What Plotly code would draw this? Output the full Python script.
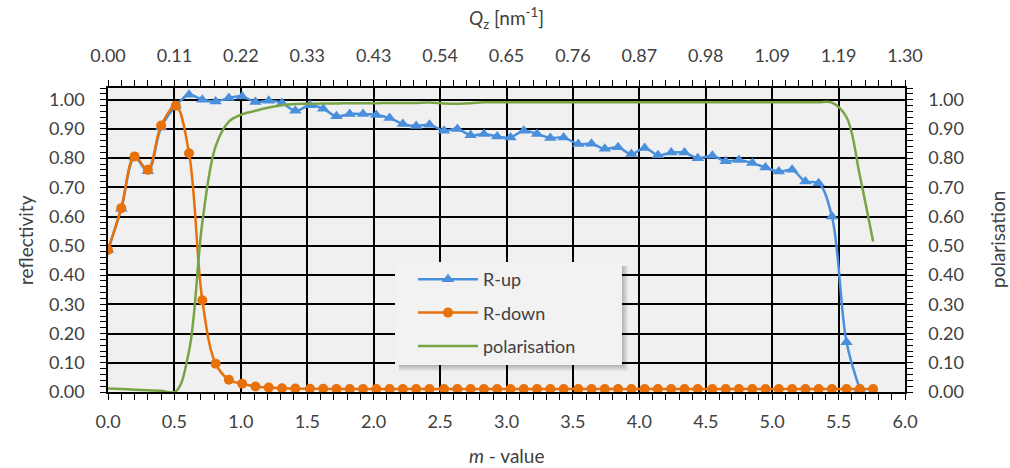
import plotly.graph_objects as go

# m-value of each measured point
M_VALUE = [
    0.00, 0.10, 0.20, 0.30, 0.40, 0.51, 0.61, 0.71, 0.81, 0.91,
    1.01, 1.11, 1.21, 1.31, 1.41, 1.52, 1.62, 1.72, 1.82, 1.92,
    2.02, 2.12, 2.22, 2.32, 2.42, 2.53, 2.63, 2.73, 2.83, 2.93,
    3.03, 3.13, 3.23, 3.33, 3.43, 3.54, 3.64, 3.74, 3.84, 3.94,
    4.04, 4.14, 4.24, 4.34, 4.44, 4.55, 4.65, 4.75, 4.85, 4.95,
    5.05, 5.15, 5.25, 5.35, 5.45, 5.56, 5.66, 5.76,
]

R_UP = [
    0.486, 0.627, 0.802, 0.755, 0.905, 0.979, 1.017, 1.000, 0.994, 1.006,
    1.011, 0.992, 0.996, 0.989, 0.962, 0.981, 0.969, 0.943, 0.951, 0.951,
    0.948, 0.937, 0.917, 0.910, 0.914, 0.894, 0.900, 0.878, 0.883, 0.874,
    0.871, 0.894, 0.883, 0.869, 0.871, 0.848, 0.849, 0.832, 0.837, 0.814,
    0.835, 0.810, 0.819, 0.819, 0.800, 0.808, 0.789, 0.794, 0.783, 0.768,
    0.754, 0.760, 0.720, 0.714, 0.600, 0.170, 0.010,
]

R_DOWN = [
    0.486, 0.629, 0.806, 0.760, 0.912, 0.979, 0.817, 0.314, 0.097, 0.042,
    0.028, 0.019, 0.015, 0.013, 0.012, 0.011, 0.011, 0.010, 0.010, 0.010,
    0.010, 0.010, 0.010, 0.010, 0.010, 0.010, 0.010, 0.010, 0.010, 0.010,
    0.010, 0.010, 0.010, 0.010, 0.010, 0.010, 0.010, 0.010, 0.010, 0.010,
    0.010, 0.010, 0.010, 0.010, 0.010, 0.010, 0.010, 0.010, 0.010, 0.010,
    0.010, 0.010, 0.010, 0.010, 0.010, 0.010, 0.010, 0.010,
]

POLARISATION = [
    0.012, 0.010, 0.008, 0.006, 0.004, 0.002, 0.140, 0.580, 0.840, 0.925,
    0.950, 0.962, 0.973, 0.981, 0.985, 0.986, 0.987, 0.987, 0.988, 0.988,
    0.988, 0.989, 0.989, 0.989, 0.990, 0.987, 0.986, 0.988, 0.991, 0.991,
    0.991, 0.991, 0.991, 0.991, 0.991, 0.991, 0.991, 0.991, 0.991, 0.991,
    0.991, 0.991, 0.991, 0.991, 0.991, 0.991, 0.991, 0.991, 0.991, 0.991,
    0.991, 0.991, 0.991, 0.991, 0.990, 0.940, 0.740, 0.515,
]

M_TICKS = [0.0, 0.5, 1.0, 1.5, 2.0, 2.5, 3.0, 3.5, 4.0, 4.5, 5.0, 5.5, 6.0]
M_LABELS = ["0.0", "0.5", "1.0", "1.5", "2.0", "2.5", "3.0",
            "3.5", "4.0", "4.5", "5.0", "5.5", "6.0"]
QZ_LABELS = ["0.00", "0.11", "0.22", "0.33", "0.43", "0.54", "0.65",
             "0.76", "0.87", "0.98", "1.09", "1.19", "1.30"]

BLUE = "#4A8FDC"
ORANGE = "#E8710C"
GREEN = "#78A446"
TEXT = "#404040"
FONT = "Lato, 'Open Sans', sans-serif"

W, H = 1010, 468
ML, MR, MT, MB = 108, 105, 88, 76
PW, PH = W - ML - MR, H - MT - MB


def px_x(px):
    return (px - ML) / PW


def px_y(py):
    return (H - MB - py) / PH


fig = go.Figure()

fig.add_trace(go.Scatter(
    x=M_VALUE[:len(R_UP)], y=R_UP, name="R-up", mode="lines+markers",
    legendgroup="up",
    line=dict(color=BLUE, width=2.5, shape="spline"),
    marker=dict(symbol="triangle-up", size=11, color=BLUE),
    xaxis="x", yaxis="y",
))
fig.add_trace(go.Scatter(
    x=M_VALUE, y=R_DOWN, name="R-down", mode="lines+markers",
    legendgroup="down",
    line=dict(color=ORANGE, width=2.5, shape="spline"),
    marker=dict(symbol="circle", size=10, color=ORANGE),
    xaxis="x", yaxis="y",
))
fig.add_trace(go.Scatter(
    x=M_VALUE, y=POLARISATION, name="polarisation", mode="lines",
    legendgroup="pol",
    line=dict(color=GREEN, width=2.5, shape="spline"),
    xaxis="x", yaxis="y2",
))
# transparent copy on the Q_z axis so the top scale is drawn
fig.add_trace(go.Scatter(
    x=M_VALUE, y=POLARISATION, mode="lines", opacity=0,
    showlegend=False, hoverinfo="skip",
    xaxis="x2", yaxis="y2",
))

tickfont = dict(family=FONT, size=18, color=TEXT)
axis_common = dict(
    showline=True, linecolor="black", linewidth=1.5,
    ticks="outside", ticklen=6, tickwidth=1.2, tickcolor="black",
    zeroline=False, tickfont=tickfont,
)

fig.update_layout(
    width=W, height=H,
    margin=dict(l=ML, r=MR, t=MT, b=MB),
    paper_bgcolor="white", plot_bgcolor="#F0F0F0",
    font=dict(family=FONT, size=18, color=TEXT),
    xaxis=dict(
        range=[0, 6], tickmode="array", tickvals=M_TICKS, ticktext=M_LABELS,
        showgrid=True, gridcolor="black", gridwidth=1.5,
        minor=dict(dtick=0.1, tick0=0, ticks="outside", ticklen=6,
                   tickcolor="black", showgrid=False),
        ticklabelstandoff=7,
        **axis_common,
    ),
    xaxis2=dict(
        range=[0, 6], overlaying="x", side="top", anchor="y2",
        tickmode="array", tickvals=M_TICKS, ticktext=QZ_LABELS,
        showgrid=False,
        minor=dict(dtick=0.1, tick0=0, ticks="outside", ticklen=6,
                   tickcolor="black", showgrid=False),
        ticklabelstandoff=11,
        **axis_common,
    ),
    yaxis=dict(
        range=[0, 1.04], dtick=0.1, tick0=0, tickformat=".2f",
        showgrid=True, gridcolor="black", gridwidth=1.5,
        minor=dict(dtick=0.02, tick0=0, ticks="outside", ticklen=6,
                   tickcolor="black", showgrid=False),
        ticklabelstandoff=12,
        **axis_common,
    ),
    yaxis2=dict(
        range=[0, 1.04], dtick=0.1, tick0=0, tickformat=".2f",
        overlaying="y", side="right", anchor="x", showgrid=False,
        minor=dict(dtick=0.02, tick0=0, ticks="outside", ticklen=6,
                   tickcolor="black", showgrid=False),
        ticklabelstandoff=12,
        **axis_common,
    ),
    legend=dict(
        x=px_x(413), y=px_y(261), xanchor="left", yanchor="top",
        bgcolor="rgba(0,0,0,0)", borderwidth=0, itemwidth=60,
        font=dict(family=FONT, size=18, color=TEXT),
        tracegroupgap=7,
    ),
    showlegend=True,
)

# legend panel with a soft drop shadow
box = (395, 262, 622, 365)
for k in range(6):
    fig.add_shape(
        type="rect", xref="paper", yref="paper", layer="above",
        x0=px_x(box[0] + 4), x1=px_x(box[2] + 1 + k),
        y0=px_y(box[3] + 1 + k), y1=px_y(box[1] + 4),
        line=dict(width=0), fillcolor="rgba(0,0,0,0.045)",
    )
fig.add_shape(
    type="rect", xref="paper", yref="paper", layer="above",
    x0=px_x(box[0]), x1=px_x(box[2]), y0=px_y(box[3]), y1=px_y(box[1]),
    line=dict(width=0), fillcolor="#F2F2F2",
)

title_font = dict(family=FONT, size=19, color=TEXT)
fig.add_annotation(text="reflectivity", xref="paper", yref="paper",
                   x=0, y=0.5, xshift=-83, textangle=-90, showarrow=False,
                   xanchor="center", yanchor="middle", font=title_font)
fig.add_annotation(text="polarisation", xref="paper", yref="paper",
                   x=1, y=0.5, xshift=92, textangle=-90, showarrow=False,
                   xanchor="center", yanchor="middle", font=title_font)
fig.add_annotation(text="<i>m</i> - value", xref="paper", yref="paper",
                   x=0.5, y=0, yshift=-63, showarrow=False,
                   xanchor="center", yanchor="middle", font=title_font)
fig.add_annotation(text="<i>Q</i><sub>z</sub> [nm<sup>-1</sup>]",
                   xref="paper", yref="paper",
                   x=0.5, y=1, yshift=70, showarrow=False,
                   xanchor="center", yanchor="middle", font=title_font)

fig.write_html("out.html")
